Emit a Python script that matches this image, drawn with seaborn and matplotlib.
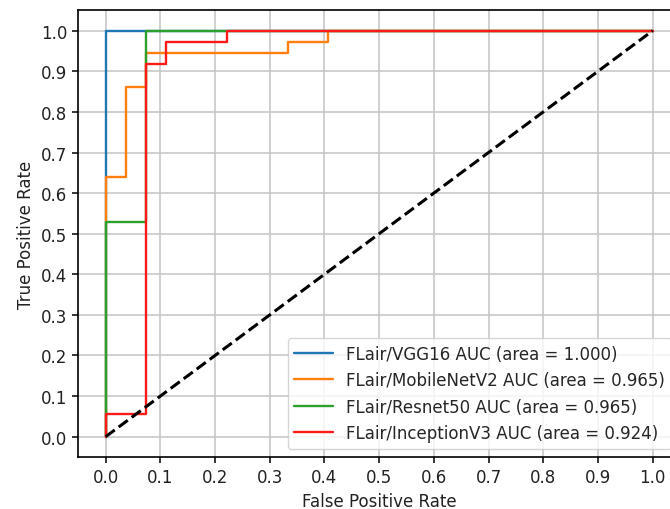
import matplotlib
matplotlib.use("Agg")
import matplotlib.pyplot as plt
import seaborn as sns
import pandas as pd

# ROC curve vertices (false positive rate, true positive rate) per model
vgg16_fpr = [0.0, 0.0, 1.0]
vgg16_tpr = [0.0, 1.0, 1.0]

mobilenet_fpr = [0.0, 0.0, 0.037, 0.037, 0.074, 0.074, 0.333, 0.333, 0.407, 0.407, 1.0]
mobilenet_tpr = [0.0, 0.639, 0.639, 0.861, 0.861, 0.944, 0.944, 0.972, 0.972, 1.0, 1.0]

resnet_fpr = [0.0, 0.0, 0.074, 0.074, 1.0]
resnet_tpr = [0.0, 0.528, 0.528, 1.0, 1.0]

inception_fpr = [0.0, 0.0, 0.074, 0.074, 0.111, 0.111, 0.222, 0.222, 1.0]
inception_tpr = [0.0, 0.056, 0.056, 0.917, 0.917, 0.972, 0.972, 1.0, 1.0]

labels = [
    "FLair/VGG16 AUC (area = 1.000)",
    "FLair/MobileNetV2 AUC (area = 0.965)",
    "FLair/Resnet50 AUC (area = 0.965)",
    "FLair/InceptionV3 AUC (area = 0.924)",
]
colors = ["#1f77b4", "#ff7f0e", "#2ca02c", "#ff1a1a"]

ticks = [i / 10 for i in range(11)]

sns.set_style("ticks")
plt.rcParams["font.family"] = ["DejaVu Sans"]
plt.rcParams["font.size"] = 12

fig = plt.figure(figsize=(6.7, 5.1), dpi=100)
ax = fig.add_axes([0.1169, 0.102, 0.898, 0.8756])

curves = [
    (vgg16_fpr, vgg16_tpr),
    (mobilenet_fpr, mobilenet_tpr),
    (resnet_fpr, resnet_tpr),
    (inception_fpr, inception_tpr),
]
for (fpr, tpr), lab, col in zip(curves, labels, colors):
    df = pd.DataFrame({"fpr": fpr, "tpr": tpr})
    sns.lineplot(data=df, x="fpr", y="tpr", sort=False, estimator=None,
                 color=col, linewidth=1.7, label=lab, ax=ax)

sns.lineplot(x=[0.0, 1.0], y=[0.0, 1.0], color="black", linestyle="--",
             linewidth=2.2, ax=ax, legend=False)

ax.set_xlim(-0.05, 1.05)
ax.set_ylim(-0.05, 1.05)
ax.set_xticks(ticks)
ax.set_yticks(ticks)
ax.set_xticklabels([f"{t:.1f}" for t in ticks], fontsize=12)
ax.set_yticklabels([f"{t:.1f}" for t in ticks], fontsize=12)
ax.grid(True, color="#c4c4c4", linewidth=1.1)
ax.set_axisbelow(True)
ax.tick_params(length=4.5, width=1.1, color="black", labelcolor="#222222")
for s in ax.spines.values():
    s.set_color("black")
    s.set_linewidth(1.2)

ax.set_xlabel("False Positive Rate", fontsize=12, color="#222222")
ax.set_ylabel("True Positive Rate", fontsize=12, color="#222222")
ax.legend(loc="lower right", fontsize=12, frameon=True, fancybox=True,
          framealpha=0.8, edgecolor="#cccccc", handlelength=2.3)

fig.savefig("out.png", dpi=100)
